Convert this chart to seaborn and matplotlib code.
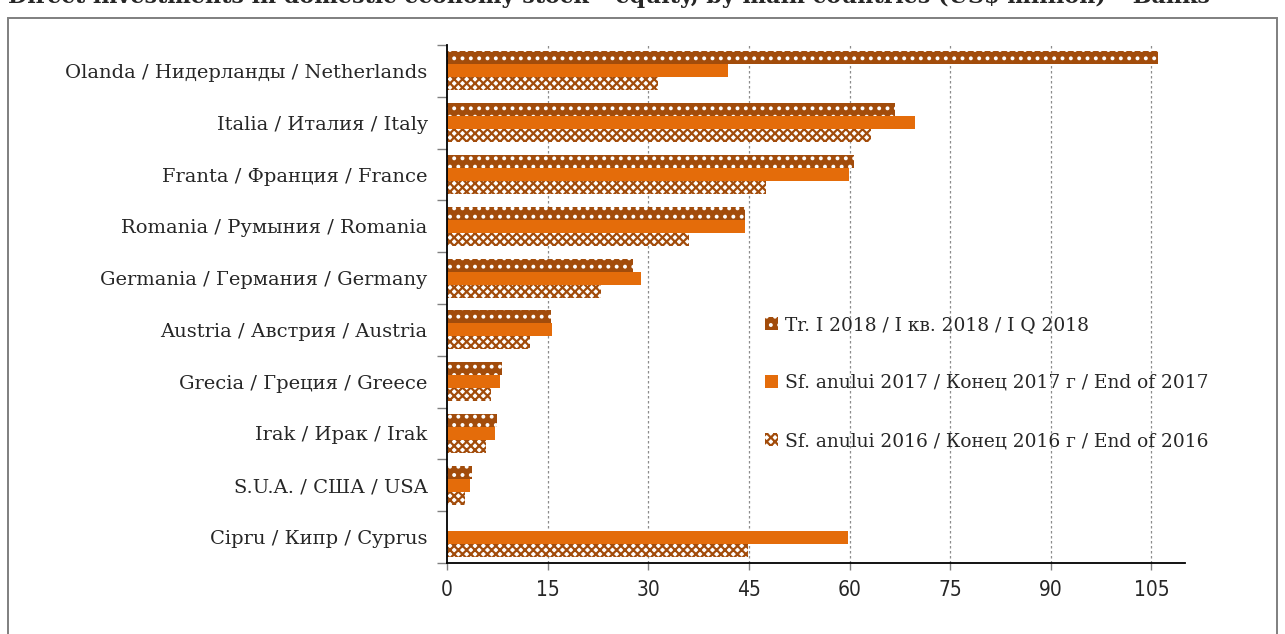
import matplotlib
matplotlib.use('Agg')
import matplotlib.pyplot as plt
import matplotlib.patches as mpatches
import pandas as pd
import seaborn as sns

countries = ['Olanda / Нидерланды / Netherlands', 'Italia / Италия / Italy',
             'Franta / Франция / France', 'Romania / Румыния / Romania',
             'Germania / Германия / Germany', 'Austria / Австрия / Austria',
             'Grecia / Греция / Greece', 'Irak / Ирак / Irak',
             'S.U.A. / США / USA', 'Cipru / Кипр / Cyprus']
series = ['Tr. I 2018 / I кв. 2018 / I Q 2018',
          'Sf. anului 2017 / Конец 2017 г / End of 2017',
          'Sf. anului 2016 / Конец 2016 г / End of 2016']
q1_2018 = [106.0, 66.8, 60.7, 44.4, 27.7, 15.5, 8.2, 7.5, 3.7, 0.0]
end_2017 = [41.9, 69.8, 59.9, 44.4, 28.9, 15.7, 7.9, 7.2, 3.4, 59.8]
end_2016 = [31.5, 63.2, 47.6, 36.1, 23.0, 12.4, 6.6, 5.8, 2.7, 44.9]
xticks = [0, 15, 30, 45, 60, 75, 90, 105]
title = 'Direct investments in domestic economy stock – equity, by main countries (US$ million) – Banks'

brown = '#A24C0B'
orange = '#E46C0A'
serif = ['DejaVu Serif']

rows = []
for s, vals in zip(series, [q1_2018, end_2017, end_2016]):
    for c, v in zip(countries, vals):
        rows.append({'country': c, 'series': s, 'value': v})
df = pd.DataFrame(rows)

sns.set_style('white')
plt.rcParams['hatch.linewidth'] = 1.6
fig = plt.figure(figsize=(12.85, 6.34), dpi=100)
ax = fig.add_axes([447 / 1285, 1 - 563 / 634, (1185 - 447) / 1285, (563 - 45) / 634])

sns.barplot(data=df, y='country', x='value', hue='series', hue_order=series,
            order=countries, orient='h', width=0.75, gap=0, ax=ax,
            palette=[brown, orange, brown], legend=False)

styles = [dict(facecolor=brown, edgecolor='white', hatch='..', linewidth=0),
          dict(facecolor=orange, edgecolor=orange, hatch=None, linewidth=0),
          dict(facecolor='white', edgecolor=brown, hatch='xxxx', linewidth=0)]
for cont, st in zip(ax.containers, styles):
    for bar in cont:
        bar.set_facecolor(st['facecolor'])
        bar.set_edgecolor(st['edgecolor'])
        bar.set_hatch(st['hatch'])
        bar.set_linewidth(st['linewidth'])

ax.set_xlim(0, 110)
ax.set_ylim(9.5, -0.5)
ax.set_xticks(xticks)
ax.set_xticklabels([str(t) for t in xticks], fontsize=15, family='DejaVu Sans',
                   fontstretch='condensed')
ax.set_yticks(range(len(countries)))
ax.set_yticklabels(countries, fontsize=14, family=serif)
ax.set_yticks([i - 0.5 for i in range(len(countries) + 1)], minor=True)
ax.tick_params(axis='y', which='major', left=False, length=0, pad=14)
ax.tick_params(axis='y', which='minor', left=True, length=7, color='#808080', width=1)
ax.tick_params(axis='x', which='major', bottom=True, length=5, color='#808080', width=1, pad=7)
ax.set_xlabel('')
ax.set_ylabel('')
for t in xticks[1:]:
    ax.axvline(t, color='#8c8c8c', linestyle=(0, (2, 2)), linewidth=0.9, zorder=0)
for sp in ['top', 'right']:
    ax.spines[sp].set_visible(False)
ax.spines['left'].set_color('black')
ax.spines['bottom'].set_color('black')
ax.spines['left'].set_linewidth(1.3)
ax.spines['bottom'].set_linewidth(1.3)

handles = [mpatches.Patch(**st) for st in styles]
fig.legend(handles, series, loc='center left', bbox_to_anchor=(765 / 1285, 1 - 383 / 634),
           frameon=False, prop={'family': serif, 'size': 13.4},
           handlelength=0.7, handleheight=0.7, handletextpad=0.35,
           labelspacing=2.15, borderpad=0, borderaxespad=0)

fig.text(8 / 1285, 1 - 2.5 / 634, title, fontsize=16, fontweight='bold',
         family=serif, va='baseline', ha='left')
fig.patches.append(mpatches.Rectangle((8 / 1285, -0.05), (1277 - 8) / 1285, 1 - 18 / 634 + 0.05,
                                      transform=fig.transFigure, fill=False,
                                      edgecolor='#7f7f7f', linewidth=1.4))

fig.savefig('out.png', dpi=100)
